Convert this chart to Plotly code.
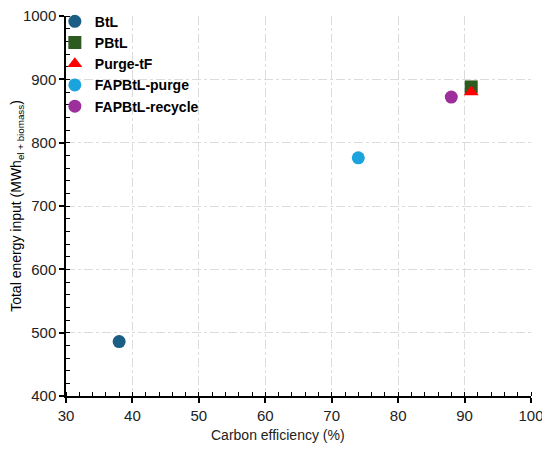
import plotly.graph_objects as go

# values
names = ["BtL", "PBtL", "Purge-tF", "FAPBtL-purge", "FAPBtL-recycle"]
carbon_eff = [38, 91, 91, 74, 88]
energy_in = [486, 888, 880, 776, 872]
colors = ["#1b5e85", "#2c5a1f", "#ff0000", "#1aa3dc", "#9c2f9b"]
symbols = ["circle", "square", "triangle-up", "circle", "circle"]

fig = go.Figure()
for i in range(len(names)):
    fig.add_trace(go.Scatter(
        x=[carbon_eff[i]], y=[energy_in[i]], mode="markers", name="<b>" + names[i] + "</b>",
        marker=dict(color=colors[i], symbol=symbols[i], size=13),
    ))

axis_common = dict(
    showline=True, linecolor="black", linewidth=1.5,
    ticks="outside", ticklen=5, tickcolor="black", tickwidth=1.5,
    showgrid=True, gridcolor="#dcdcdc", griddash="dashdot", gridwidth=1,
    zeroline=False, tickfont=dict(size=15, color="#222"),
    minor=dict(ticks="inside", ticklen=4, tickcolor="black", tickwidth=1.2, showgrid=False),
    automargin=False, ticklabeloverflow="allow",
)

fig.update_xaxes(range=[30, 100], dtick=10, **axis_common)
fig.update_yaxes(range=[400, 1000], dtick=100,
                 title=dict(text="Total energy input (MWh<sub>el + biomass</sub>)", font=dict(size=14), standoff=6),
                 **axis_common)

# x title sits centred on the figure rather than the plot area
fig.add_annotation(text="Carbon efficiency (%)", xref="paper", yref="paper", x=0.456, y=0,
                   yshift=-39, showarrow=False, font=dict(size=14, color="#222"),
                   xanchor="center", yanchor="middle")

# page body has an 8px margin, so the figure is 8px smaller each way
fig.update_layout(
    width=542, height=441,
    margin=dict(l=58, r=19, t=8, b=53, autoexpand=False),
    plot_bgcolor="white", paper_bgcolor="white",
    font=dict(family="Liberation Sans, Arial", color="black"),
    legend=dict(x=-0.024, y=1.027, xanchor="left", yanchor="top", bgcolor="rgba(255,255,255,0)",
                font=dict(size=14, family="Liberation Sans, Arial"), tracegroupgap=0,
                itemwidth=30),
    showlegend=True,
)

fig.write_html("out.html")
